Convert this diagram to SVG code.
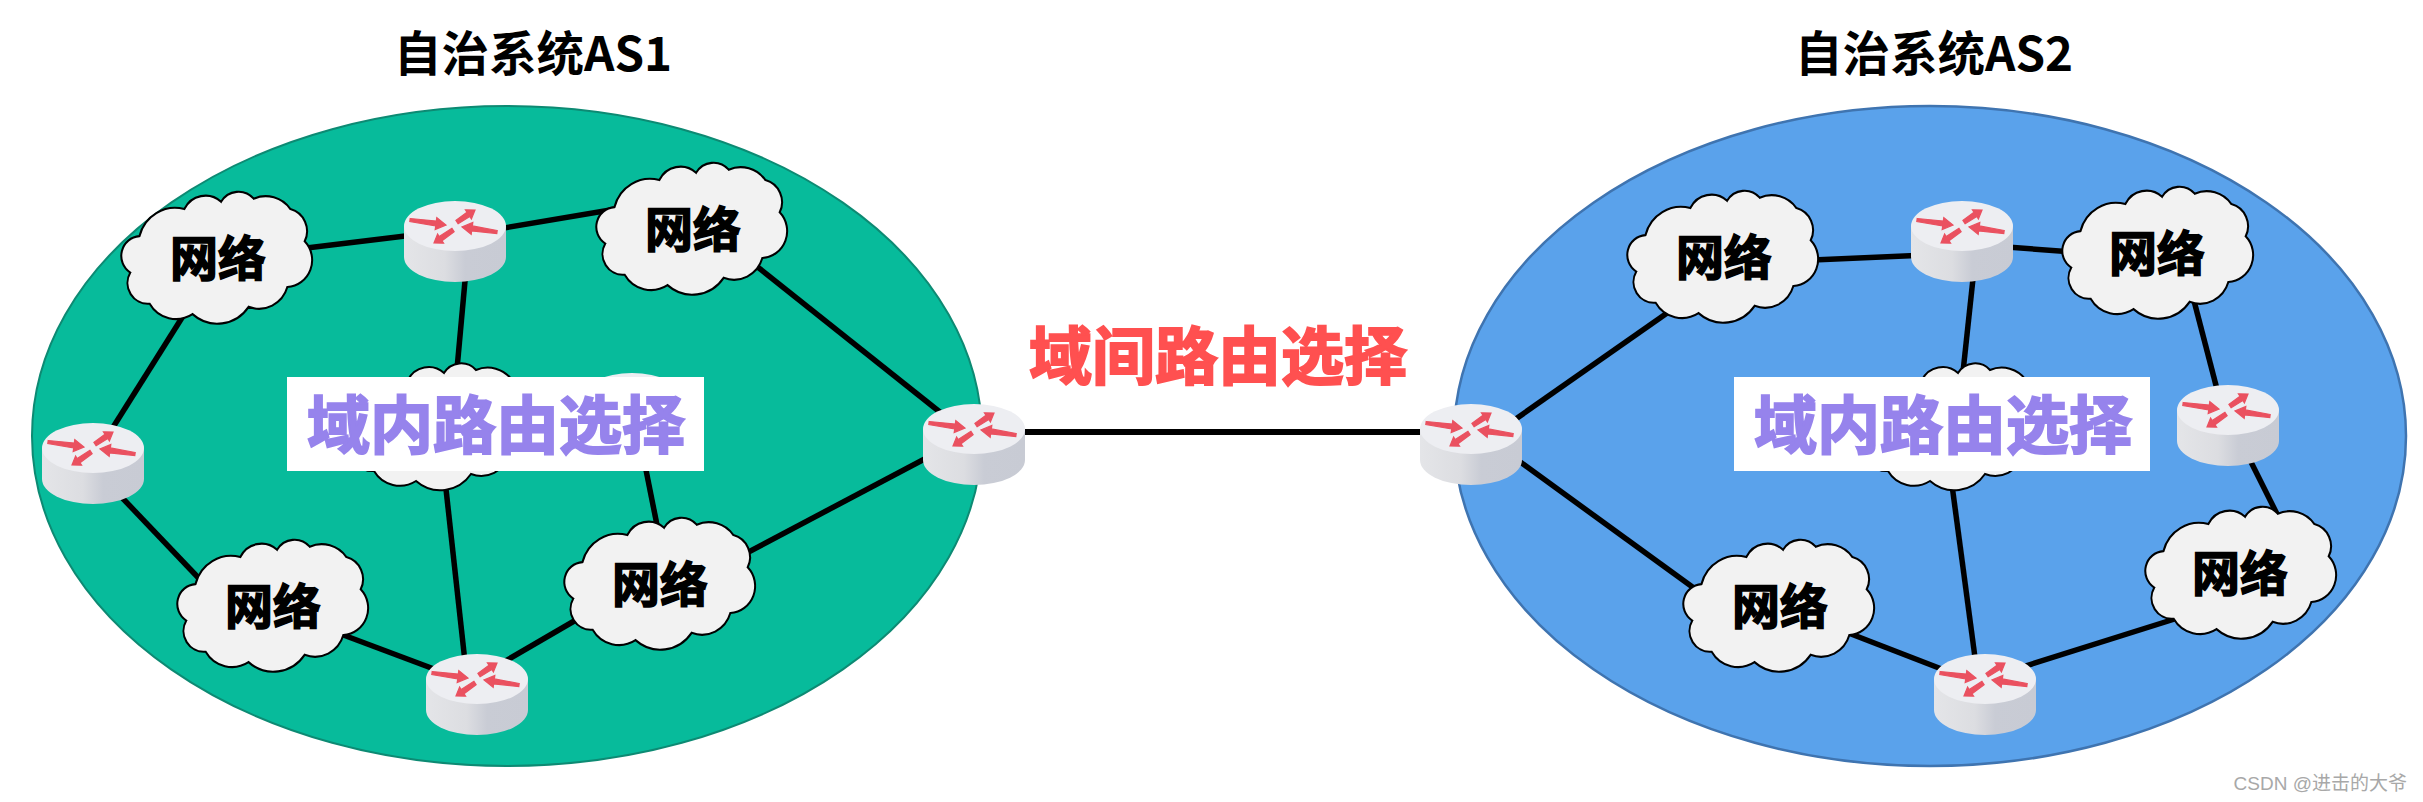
<svg xmlns="http://www.w3.org/2000/svg" width="2423" height="802" viewBox="0 0 2423 802">
<style>
.t{font-family:"Noto Sans CJK SC","Liberation Sans",sans-serif;font-weight:700;text-anchor:middle}
.title{font-size:47.5px;fill:#000}
.net{font-size:48px;fill:#000;stroke:#000;stroke-width:1.6px;dominant-baseline:central}
.big{font-size:63px;stroke-width:2px;dominant-baseline:central}
.link line{stroke:#000;stroke-width:5.5px}
.cloud{fill:#f2f2f2;stroke:#000;stroke-width:2px}
.arr{fill:#ea5160;stroke:#ea5160;stroke-width:1.2px}
</style>
<defs>
<linearGradient id="side" x1="0" x2="1" y1="0" y2="0">
<stop offset="0" stop-color="#e4e5e8"/><stop offset=".4" stop-color="#dcdde1"/><stop offset=".6" stop-color="#c9ccd5"/><stop offset="1" stop-color="#c8cbd4"/>
</linearGradient>
<path id="cl" class="cloud" d="M-86,13 A19,19 0 0 1 -77,-22 A36,36 0 0 1 -33,-48 A23,23 0 0 1 3,-55 A20,20 0 0 1 35,-58 A30,30 0 0 1 71,-48 A22,22 0 0 1 85,-17 A26,26 0 0 1 68,27 A29,29 0 0 1 30,46 A37,37 0 0 1 -25,53 A30,30 0 0 1 -67,43 A20,20 0 0 1 -86,13Z"/>
<g id="rt">
<path fill="url(#side)" d="M-51,25 V56 A51,25 0 0 0 51,56 V25Z"/>
<ellipse cx="0" cy="25" rx="51" ry="25" fill="#edeef2"/>
<polygon class="arr" points="-44.8,17.5 -18.7,20.1 -18.2,16.6 -9,24 -19.8,28.5 -19.3,25 -45.2,20.5"/>
<polygon class="arr" points="42.2,29.5 17.4,24.9 17.8,21.5 7,26 16.2,33.3 16.6,29.9 41.8,32.5"/>
<polygon class="arr" points="3.1,22.7 14.8,15.5 16.4,18 20,9 10.4,8.8 12,11.3 0.9,19.3"/>
<polygon class="arr" points="-0.9,30.7 -13,39.7 -11.4,42.2 -21,42 -17.4,33 -15.8,35.5 -3.1,27.3"/>
</g>
</defs>
<rect width="2423" height="802" fill="#fff"/>
<g id="as1"><ellipse cx="507" cy="436" rx="475" ry="330" fill="#07bb9b" stroke="#0d8a73" stroke-width="2"/></g>
<g id="as2"><ellipse cx="1930" cy="436" rx="476" ry="330" fill="#5aa2eb" stroke="#3f74b0" stroke-width="2.5"/></g>
<g id="connectors" class="link">
<line x1="290" y1="250" x2="430" y2="233"/>
<line x1="480" y1="232" x2="640" y2="205"/>
<line x1="466" y1="270" x2="456" y2="380"/>
<line x1="190" y1="305" x2="105" y2="440"/>
<line x1="110" y1="485" x2="210" y2="590"/>
<line x1="330" y1="630" x2="450" y2="675"/>
<line x1="445" y1="480" x2="467" y2="680"/>
<line x1="490" y1="670" x2="600" y2="606"/>
<line x1="720" y1="567" x2="970" y2="435"/>
<line x1="740" y1="253" x2="975" y2="440"/>
<line x1="640" y1="440" x2="660" y2="540"/>
<line x1="1000" y1="432" x2="1450" y2="432" style="stroke-width:6px"/>
<line x1="1490" y1="437" x2="1700" y2="290"/>
<line x1="1490" y1="440" x2="1720" y2="607"/>
<line x1="1790" y1="261" x2="1950" y2="254"/>
<line x1="1980" y1="245" x2="2100" y2="254"/>
<line x1="1975" y1="260" x2="1960" y2="400"/>
<line x1="1950" y1="470" x2="1978" y2="680"/>
<line x1="1820" y1="622" x2="1970" y2="680"/>
<line x1="2000" y1="674" x2="2200" y2="611"/>
<line x1="2186" y1="270" x2="2225" y2="420"/>
<line x1="2235" y1="430" x2="2290" y2="540"/>
</g>
<g id="n1"><use href="#cl" transform="translate(218,259) scale(1.02,1.04)"/><text class="t net" x="218" y="255">网络</text></g>
<g id="n2"><use href="#cl" transform="translate(693,230) scale(1.02,1.04)"/><text class="t net" x="693" y="226">网络</text></g>
<g id="n3"><use href="#cl" transform="translate(441,428)"/></g>
<g id="n4"><use href="#cl" transform="translate(274,607) scale(1.02,1.04)"/><text class="t net" x="273" y="603">网络</text></g>
<g id="n5"><use href="#cl" transform="translate(661,585) scale(1.02,1.04)"/><text class="t net" x="660" y="581">网络</text></g>
<g id="r1"><use href="#rt" x="455" y="201"/></g>
<g id="r2"><use href="#rt" x="93" y="423"/></g>
<g id="r3"><use href="#rt" x="974" y="404"/></g>
<g id="r4"><use href="#rt" x="632" y="373"/></g>
<g id="r5"><use href="#rt" x="477" y="654"/></g>
<g id="n6"><use href="#cl" transform="translate(1724,258) scale(1.02,1.04)"/><text class="t net" x="1724" y="254">网络</text></g>
<g id="n7"><use href="#cl" transform="translate(2159,254) scale(1.02,1.04)"/><text class="t net" x="2157" y="250">网络</text></g>
<g id="n8"><use href="#cl" transform="translate(1955,428)"/></g>
<g id="n9"><use href="#cl" transform="translate(1780,607) scale(1.02,1.04)"/><text class="t net" x="1780" y="603">网络</text></g>
<g id="n10"><use href="#cl" transform="translate(2242,574) scale(1.02,1.04)"/><text class="t net" x="2240" y="570">网络</text></g>
<g id="r6"><use href="#rt" x="1471" y="404"/></g>
<g id="r7"><use href="#rt" x="1962" y="201"/></g>
<g id="r8"><use href="#rt" x="2228" y="385"/></g>
<g id="r9"><use href="#rt" x="1985" y="654"/></g>
<g id="labels">
<rect x="287" y="377" width="417" height="94" fill="#fff"/>
<rect x="1734" y="377" width="416" height="94" fill="#fff"/>
<text class="t title" x="533" y="71">自治系统AS1</text>
<text class="t title" x="1934" y="71">自治系统AS2</text>
<text class="t big" x="496" y="420" fill="#9683ec" stroke="#9683ec">域内路由选择</text>
<text class="t big" x="1943" y="420" fill="#9683ec" stroke="#9683ec">域内路由选择</text>
<text class="t big" x="1218" y="351" fill="#ff5050" stroke="#ff5050">域间路由选择</text>
<text x="2407" y="790" text-anchor="end" font-family="'Liberation Sans','Noto Sans CJK SC',sans-serif" font-size="19" fill="#a8a8a8">CSDN @进击的大爷</text>
</g>
</svg>
